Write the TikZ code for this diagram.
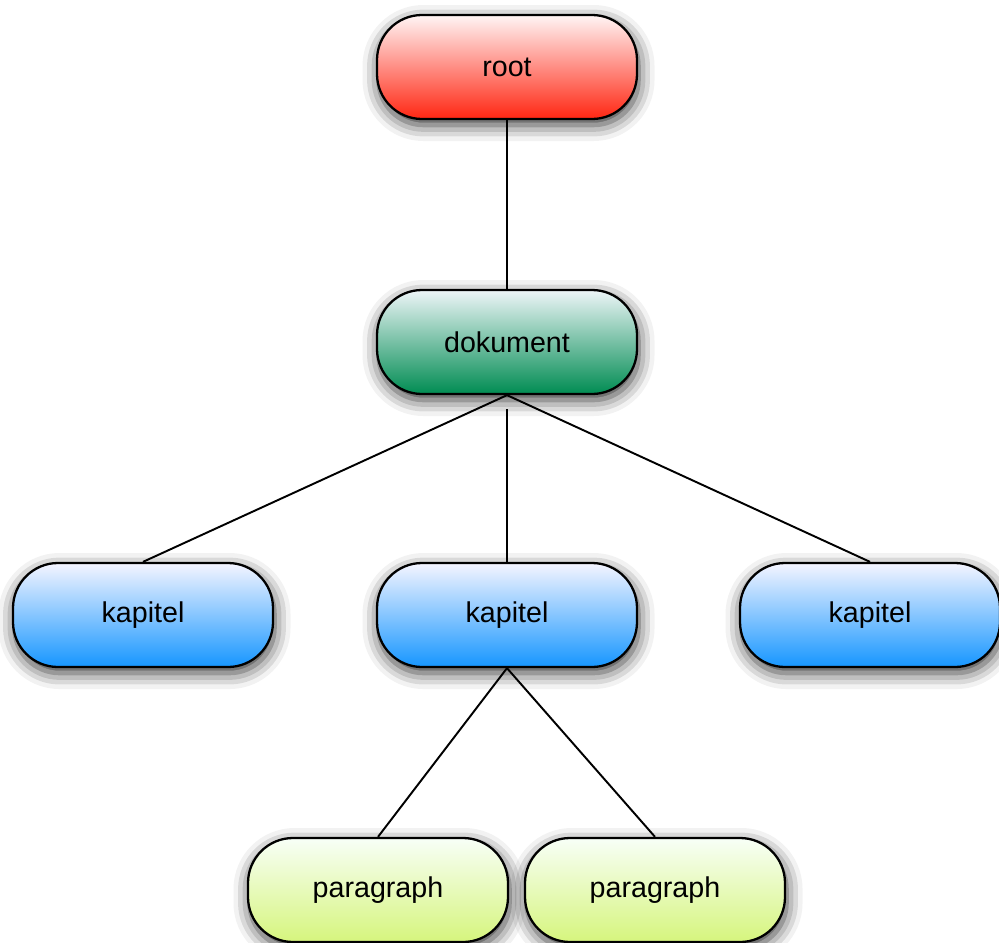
\documentclass[tikz,border=0pt]{standalone}
\usepackage{fontspec}
\setmainfont{Liberation Sans}
\usepackage{tikz}
\usetikzlibrary{positioning, shadows.blur}

\definecolor{rootred}{RGB}{255,38,18}
\definecolor{dokgreen}{RGB}{0,140,82}
\definecolor{kapblue}{RGB}{22,150,255}
\definecolor{paralime}{RGB}{214,245,125}

\begin{document}
\begin{tikzpicture}[
		x=0.2mm, y=-0.2mm,
		pill/.style={rectangle,draw=black,line width=1.3pt,rounded corners=0.9cm,
			minimum width=5.2cm,minimum height=2.08cm,
			font=\fontsize{16.3}{19}\selectfont,
			blur shadow={shadow xshift=0.03cm,shadow yshift=-0.12cm,
				shadow blur radius=0.32cm,shadow opacity=80}},
		rootnode/.style={pill,top color=red!4,bottom color=rootred},
		doknode/.style={pill,top color=green!3!white!96!blue,bottom color=dokgreen},
		kapnode/.style={pill,top color=blue!4,bottom color=kapblue},
		paranode/.style={pill,top color=yellow!4!green!3,bottom color=paralime},
		edge/.style={line width=1.1pt},
		]
		\useasboundingbox (0,0) rectangle (999,942);
		% tree nodes
		\node[rootnode] (root) at (507,67) {root};
		\node[doknode] (dok) at (507,342) {dokument};
		\node[kapnode] (kap1) at (143,615) {kapitel};
		\node[kapnode] (kap2) at (507,615) {kapitel};
		\node[kapnode] (kap3) at (870,615) {kapitel};
		\node[paranode] (par1) at (378,890) {paragraph};
		\node[paranode] (par2) at (655,890) {paragraph};
		% connectors
		\draw[edge] (root) -- (dok);
		\draw[edge] (dok.south) -- (kap1.north);
		\draw[edge,shorten <=0.28cm] (dok.south) -- (kap2.north);
		\draw[edge] (dok.south) -- (kap3.north);
		\draw[edge] (kap2.south) -- (par1.north);
		\draw[edge] (kap2.south) -- (par2.north);
	\end{tikzpicture}
\end{document}
